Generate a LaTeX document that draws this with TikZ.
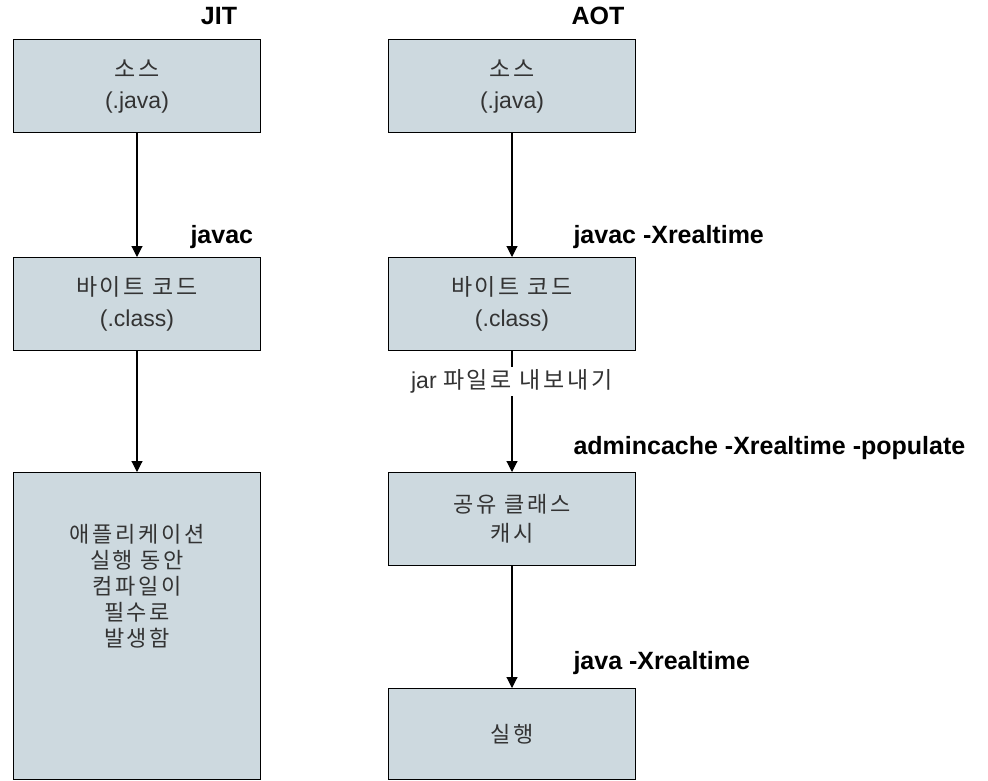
\documentclass[tikz,border=0pt]{standalone}
\usepackage{fontspec}
\setmainfont{Liberation Sans}
\newfontfamily\krfont[LetterSpace=12]{Noto Sans CJK KR}
\usetikzlibrary{arrows.meta}
\definecolor{boxfill}{RGB}{205,217,223}
\definecolor{boxtext}{RGB}{51,51,51}
\begin{document}
\begin{tikzpicture}[
  x=1pt, y=-1pt,
  stage/.style={
    draw=black,
    line width=1.2pt,
    fill=boxfill,
    text=boxtext,
    align=center,
    font=\fontsize{23}{31}\selectfont,
    minimum width=247,
    minimum height=#1,
    inner sep=0,
    anchor=north},
  kr/.style={font=\krfont\fontsize{22}{29}\selectfont},
  cmd/.style={font=\bfseries\fontsize{25}{30}\selectfont,anchor=west,text=black},
  flow/.style={-{Triangle[length=11pt,width=11pt]},line width=1.1pt}]
  \useasboundingbox (0,0) rectangle (988,780);
  % column titles
  \node[cmd,anchor=center] (jit) at (219,16) {JIT};
  \node[cmd,anchor=center] (aot) at (598,16) {AOT};
  % JIT column
  \node[stage=93] (jsrc) at (137,39) {{\krfont 소스}\\(.java)};
  \node[stage=93] (jbyte) at (137,257) {{\krfont 바이트 코드}\\(.class)};
  \node[stage=307] (jrun) at (137,472) {};
  \node[text=boxtext,align=center,font=\krfont\fontsize{22}{26}\selectfont] (jrunlbl) at (137,586)
    {애플리케이션\\실행 동안\\컴파일이\\필수로\\발생함};
  % AOT column
  \node[stage=93] (asrc) at (512,39) {{\krfont 소스}\\(.java)};
  \node[stage=93] (abyte) at (512,257) {{\krfont 바이트 코드}\\(.class)};
  \node[stage=93,kr] (acache) at (512,472) {공유 클래스\\캐시};
  \node[stage=91,kr] (arun) at (512,688) {실행};
  % connectors
  \draw[flow] (jsrc.south) -- (jbyte.north);
  \draw[flow] (jbyte.south) -- (jrun.north);
  \draw[flow] (asrc.south) -- (abyte.north);
  \draw[flow] (abyte.south) -- node[pos=0.25,fill=white,text=boxtext,inner sep=3,
    font=\fontsize{23}{28}\selectfont] (jarlbl) {jar {\krfont 파일로 내보내기}} (acache.north);
  \draw[flow] (acache.south) -- (arun.north);
  % command labels
  \node[cmd] (javac) at (187,237) {javac};
  \node[cmd] (javacrt) at (570,237) {javac -Xrealtime};
  \node[cmd] (admin) at (570,448) {admincache -Xrealtime -populate};
  \node[cmd] (javart) at (570,663) {java -Xrealtime};
\end{tikzpicture}
\end{document}
